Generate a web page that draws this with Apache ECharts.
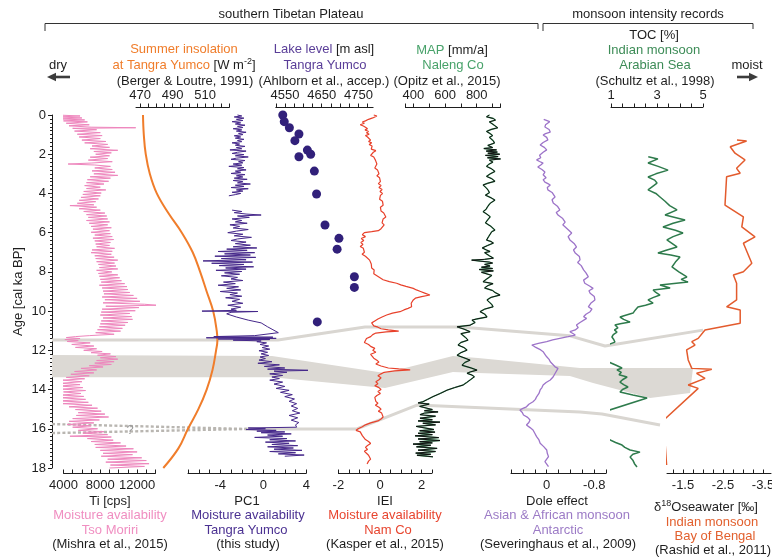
<!DOCTYPE html>
<html>
<head>
<meta charset="utf-8">
<script src="https://cdn.jsdelivr.net/npm/echarts@6/dist/echarts.min.js"></script>
<style>
  html, body { margin: 0; padding: 0; background: #fff; }
  #chart { width: 772px; height: 559px; }
</style>
</head>
<body>
<div id="chart"></div>
<script>
// ---------------------------------------------------------------------------
// Records, each as [age (cal ka BP), value]
// ---------------------------------------------------------------------------

// Ti [cps], Tso Moriri (Mishra et al., 2015)
const tiRecord = [
  [0.00,3300],[0.05,5800],[0.10,3500],[0.15,6000],[0.20,3600],[0.25,6300],[0.30,4000],[0.35,6600],
  [0.42,4300],[0.50,6800],[0.55,4600],[0.62,7000],[0.65,11850],[0.68,5000],[0.75,7600],[0.82,5200],
  [0.90,8000],[0.98,5500],[1.05,8200],[1.12,5700],[1.20,8000],[1.28,6000],[1.35,8600],[1.42,6300],
  [1.50,8800],[1.58,7100],[1.65,9000],[1.72,6900],[1.80,9900],[1.86,7300],[1.93,9200],[2.00,7500],
  [2.08,9000],[2.15,6900],[2.22,8800],[2.30,6700],[2.38,9300],[2.45,7000],[2.50,4500],[2.55,7400],
  [2.62,9100],[2.70,7400],[2.78,9300],[2.85,7100],[2.92,9600],[3.00,7300],[3.08,9900],[3.15,6900],
  [3.22,9100],[3.30,6600],[3.38,8900],[3.45,6500],[3.52,8400],[3.60,6300],[3.68,8000],[3.75,6500],
  [3.82,8600],[3.90,6200],[3.98,8100],[4.05,6100],[4.12,8000],[4.20,5900],[4.28,7800],[4.35,5700],
  [4.42,7500],[4.50,5500],[4.58,7300],[4.62,4700],[4.70,7600],[4.78,5700],[4.85,8000],[4.92,6200],
  [5.00,8500],[5.08,6500],[5.15,8700],[5.22,6700],[5.30,8800],[5.38,6500],[5.45,9000],[5.52,6800],
  [5.60,8800],[5.68,7000],[5.75,9200],[5.82,7200],[5.90,9000],[5.98,7000],[6.05,9100],[6.12,7400],
  [6.20,9300],[6.28,7200],[6.35,9450],[6.42,7400],[6.50,9100],[6.58,7500],[6.65,9000],[6.72,7600],
  [6.80,9550],[6.88,7100],[6.95,9300],[7.02,7000],[7.10,9200],[7.18,7400],[7.25,9500],[7.32,7500],
  [7.40,9900],[7.48,7600],[7.55,9550],[7.62,7800],[7.70,9700],[7.78,7900],[7.85,9900],[7.92,7600],
  [8.00,9250],[8.08,7800],[8.15,9900],[8.22,7900],[8.30,10100],[8.38,8000],[8.45,10300],[8.52,8100],
  [8.60,10650],[8.68,7900],[8.75,10900],[8.82,8200],[8.90,11000],[8.98,8300],[9.05,11200],[9.12,8400],
  [9.20,11600],[9.28,8200],[9.35,12000],[9.42,8500],[9.50,12300],[9.58,8300],[9.65,12800],[9.70,14100],
  [9.75,8600],[9.82,12200],[9.90,8200],[9.98,11800],[10.05,8100],[10.12,11200],[10.20,8000],[10.28,11400],
  [10.35,8300],[10.42,11500],[10.50,8100],[10.58,11000],[10.65,8000],[10.72,10700],[10.80,7900],[10.88,10400],
  [10.95,7700],[11.02,10200],[11.10,7500],[11.18,9500],[11.25,6800],[11.30,5300],[11.35,4300],[11.40,5800],
  [11.45,4150],[11.50,5600],[11.55,4400],[11.62,6900],[11.70,4900],[11.78,7300],[11.85,5300],[11.92,7600],
  [12.00,6200],[12.06,8200],[12.12,7000],[12.18,9100],[12.25,7700],[12.32,9700],[12.38,8000],[12.45,9900],
  [12.52,7600],[12.58,9500],[12.65,7400],[12.72,9200],[12.78,6800],[12.85,8300],[12.92,5900],[13.00,7600],
  [13.08,5200],[13.15,7300],[13.22,4800],[13.30,6800],[13.38,4300],[13.45,6300],[13.52,3900],[13.60,6000],
  [13.68,3700],[13.75,5800],[13.82,3500],[13.90,6100],[13.98,3800],[14.05,6400],[14.12,4000],[14.20,5900],
  [14.28,3800],[14.35,6200],[14.42,3700],[14.50,6400],[14.58,3500],[14.65,6700],[14.72,3900],[14.80,7100],
  [14.88,4600],[14.95,7700],[15.02,5300],[15.10,8100],[15.18,5600],[15.25,8500],[15.32,5400],[15.40,8900],
  [15.48,5000],[15.55,7900],[15.62,4600],[15.70,7300],[15.78,4400],[15.85,7000],[15.92,5000],[16.00,7700],
  [16.08,5600],[16.15,8400],[16.22,6100],[16.30,8800],[16.38,4700],[16.42,9200],[16.50,6600],[16.58,9400],
  [16.65,7000],[16.72,10200],[16.80,7400],[16.88,10800],[16.95,7500],[17.02,11600],[17.10,8000],[17.18,12000],
  [17.25,8300],[17.32,11500],[17.40,8100],[17.48,12500],[17.55,8800],[17.62,13000],[17.70,8600],[17.78,13300],
  [17.85,9100],[17.92,12800],[18.00,9000]
];

// Summer insolation at Tangra Yumco [W m-2] (Berger & Loutre, 1991)
const insolation = [
  [0,471.8],[1,472.3],[2,473.5],[3,476],[4,480.3],[5,487.4],[6,495.7],[7,502.4],[8,507],[9,511],
  [10,515],[11,517.2],[11.5,517.6],[12,516.8],[13,514.6],[14,511],[15,505.9],[16,499.5],[17,493.6],[18,484.3]
];

// PC1, Tangra Yumco (this study); null marks the core gap
const pc1Record = [
  [0.00,-2.4],[0.05,-2.0],[0.10,-2.7],[0.16,-1.8],[0.22,-2.5],[0.28,-1.9],[0.34,-2.9],[0.40,-2.1],
  [0.46,-2.6],[0.52,-1.7],[0.58,-2.4],[0.64,-1.9],[0.70,-2.8],[0.76,-2.0],[0.82,-2.5],[0.88,-1.6],
  [0.94,-2.3],[1.00,-1.9],[1.06,-2.7],[1.12,-2.1],[1.18,-2.6],[1.24,-1.8],[1.30,-2.4],[1.36,-2.0],
  [1.42,-2.9],[1.48,-2.2],[1.54,-2.6],[1.60,-1.7],[1.66,-2.5],[1.72,-2.0],[1.78,-3.1],[1.84,-1.6],
  [1.90,-2.4],[1.96,-2.9],[2.02,-1.8],[2.08,-2.6],[2.14,-1.4],[2.20,-2.5],[2.26,-3.0],[2.32,-1.7],
  [2.38,-2.3],[2.44,-1.9],[2.50,-2.8],[2.56,-2.0],[2.62,-3.2],[2.68,-1.8],[2.74,-2.4],[2.80,-1.6],
  [2.86,-2.6],[2.92,-2.1],[2.98,-3.0],[3.04,-1.7],[3.10,-2.5],[3.16,-1.9],[3.22,-2.7],[3.28,-1.5],
  [3.34,-2.8],[3.40,-1.9],[3.46,-2.4],[3.52,-1.2],[3.58,-2.6],[3.64,-1.8],[3.70,-3.0],[3.76,-1.4],
  [3.82,-2.5],[3.88,-1.9],[3.94,-2.9],[4.00,-2.1],[4.06,-2.6],[4.12,-3.2],
  null,
  [4.85,-2.9],[4.92,-2.0],[4.98,-2.7],[5.05,-1.6],[5.10,-0.2],[5.15,-2.4],[5.22,-1.3],[5.30,-2.9],
  [5.38,-2.0],[5.45,-2.6],[5.52,-1.5],[5.60,-3.1],[5.68,-2.2],[5.76,-2.8],[5.84,-1.4],[5.92,-2.5],
  [6.00,-3.3],[6.08,-1.9],[6.16,-2.7],[6.24,-1.1],[6.32,-2.4],[6.40,-3.0],[6.48,-1.6],[6.56,-2.6],
  [6.64,-1.2],[6.72,-2.8],[6.78,-0.6],[6.84,-3.4],[6.90,-1.5],[6.96,-4.2],[7.02,-0.8],[7.08,-3.6],
  [7.14,-1.2],[7.20,-4.5],[7.26,-0.7],[7.32,-3.9],[7.38,-1.6],[7.44,-5.6],[7.50,-1.0],[7.56,-4.8],
  [7.62,-1.8],[7.68,-4.1],[7.74,-0.9],[7.80,-3.5],[7.86,-1.6],[7.92,-4.4],[7.98,-2.0],[8.05,-3.6],
  [8.12,-2.2],[8.20,-3.9],[8.28,-2.4],[8.36,-3.0],[8.44,-1.9],[8.52,-3.7],[8.60,-2.6],[8.68,-4.2],
  [8.76,-2.3],[8.84,-3.4],[8.92,-2.1],[9.00,-4.0],[9.08,-2.4],[9.16,-3.1],[9.24,-2.0],[9.32,-3.5],
  [9.40,-2.2],[9.50,-2.9],[9.60,-1.9],[9.70,-3.3],[9.80,-2.1],[9.90,-3.0],[9.96,-2.5],[10.00,-5.7],
  [10.02,-0.5],[10.06,-3.0],[10.14,-3.4],[10.22,-3.4],[10.30,-2.5],[10.46,-1.4],[10.60,-0.2],[10.80,0.4],
  [10.95,0.9],[11.10,1.4],[11.25,-0.8],[11.30,-4.6],[11.33,0.9],[11.36,-5.3],[11.39,1.2],[11.42,-4.2],
  [11.45,0.6],[11.48,-2.8],[11.52,-0.2],[11.56,-0.6],[11.62,0.3],[11.70,-0.3],[11.78,0.5],[11.86,-0.1],
  [11.94,0.6],[12.02,-0.4],[12.10,0.4],[12.18,-0.2],[12.26,0.5],[12.34,-0.3],[12.42,0.2],[12.50,-0.4],
  [12.58,0.8],[12.66,-0.5],[12.74,1.5],[12.82,0.1],[12.90,2.0],[12.96,0.4],[13.02,4.6],[13.06,1.0],
  [13.12,2.2],[13.20,0.6],[13.28,1.8],[13.36,0.8],[13.44,1.5],[13.52,0.6],[13.62,1.8],[13.72,1.0],
  [13.84,2.0],[13.94,1.2],[14.04,2.4],[14.14,1.6],[14.26,2.7],[14.36,2.0],[14.48,2.9],[14.60,2.4],
  [14.72,3.1],[14.84,2.6],[14.96,3.2],[15.08,2.7],[15.20,3.4],[15.32,2.4],[15.44,3.2],[15.56,2.6],
  [15.68,3.3],[15.80,3.0],[15.92,3.1],[15.96,-1.4],[16.00,0.2],[16.04,-1.6],[16.08,1.2],[16.12,-0.6],
  [16.16,2.0],[16.20,-0.2],[16.26,2.6],[16.32,0.4],[16.38,1.8],[16.44,-0.8],[16.50,2.2],[16.56,0.6],
  [16.62,3.0],[16.68,0.2],[16.74,2.4],[16.80,0.8],[16.86,3.2],[16.92,0.4],[16.98,2.8],[17.04,1.0],
  [17.10,3.6],[17.16,0.6],[17.22,3.0],[17.28,1.4],[17.34,3.8],[17.40,2.0]
];

// Lake level [m asl], Tangra Yumco (Ahlborn et al., accep.)
const lakeLevel = [
  [0.00,4544],[0.34,4548],[0.65,4562],[0.97,4588],[1.31,4577],[1.79,4611],[2.00,4620],[2.13,4588],
  [2.86,4630],[4.03,4636],[5.61,4659],[6.29,4697],[6.84,4692],[8.25,4739],[8.79,4739],[10.55,4638]
];

// IEI, Nam Co (Kasper et al., 2015)
const ieiRecord = [
  [0.00,-0.30],[0.05,-0.15],[0.10,-0.10],[0.15,-0.35],[0.22,-0.55],[0.30,-0.70],[0.36,-0.85],[0.42,-0.75],
  [0.50,-0.95],[0.56,-0.80],[0.62,-0.70],[0.70,-0.60],[0.76,-0.72],[0.84,-0.55],[0.90,-0.65],[0.98,-0.52],
  [1.05,-0.70],[1.12,-0.60],[1.20,-0.68],[1.28,-0.45],[1.35,-0.55],[1.42,-0.40],[1.50,-0.52],[1.58,-0.38],
  [1.66,-0.30],[1.74,-0.42],[1.82,-0.20],[1.90,-0.32],[1.98,-0.25],[2.06,-0.45],[2.14,-0.30],[2.22,-0.38],
  [2.30,-0.22],[2.40,-0.30],[2.50,-0.15],[2.60,-0.10],[2.70,-0.25],[2.80,-0.12],[2.90,-0.20],[3.00,-0.05],
  [3.10,-0.15],[3.20,-0.02],[3.30,-0.10],[3.40,0.02],[3.50,-0.08],[3.60,0.05],[3.70,-0.05],[3.80,0.10],
  [3.90,0.00],[4.00,0.12],[4.10,0.02],[4.20,0.10],[4.30,-0.02],[4.40,0.12],[4.50,0.05],[4.60,0.15],
  [4.70,0.02],[4.80,-0.05],[4.90,0.05],[5.00,0.18],[5.10,0.10],[5.20,0.28],[5.30,0.15],[5.40,0.22],
  [5.50,0.10],[5.60,0.20],[5.70,0.15],[5.80,0.05],[5.90,-0.08],[5.95,-0.40],[6.00,-0.75],[6.10,-0.85],
  [6.20,-0.70],[6.30,-0.90],[6.40,-0.78],[6.50,-0.92],[6.60,-0.82],[6.70,-0.95],[6.80,-0.80],[6.90,-0.88],
  [7.00,-0.75],[7.10,-0.86],[7.20,-0.70],[7.30,-0.62],[7.40,-0.50],[7.50,-0.55],[7.60,-0.42],[7.70,-0.35],
  [7.80,-0.40],[7.90,-0.28],[8.00,-0.22],[8.10,-0.30],[8.20,-0.15],[8.30,-0.08],[8.40,0.15],[8.50,0.45],
  [8.58,0.80],[8.66,1.00],[8.74,1.25],[8.84,1.60],[8.92,1.75],[9.00,1.95],[9.08,2.15],[9.18,2.40],
  [9.26,2.00],[9.34,1.70],[9.43,1.60],[9.52,1.65],[9.60,1.50],[9.70,1.55],[9.78,1.52],[9.86,1.35],
  [9.94,1.15],[10.03,0.96],[10.10,0.60],[10.20,0.32],[10.30,0.10],[10.40,-0.10],[10.50,-0.25],[10.60,-0.40],
  [10.68,-0.45],[10.75,-0.30],[10.82,-0.10],[10.90,0.05],[10.96,0.40],[11.02,0.90],[11.06,0.30],[11.12,-0.20],
  [11.20,-0.35],[11.30,-0.45],[11.40,-0.65],[11.50,-0.60],[11.60,-0.75],[11.70,-0.55],[11.80,-0.45],[11.90,-0.25],
  [12.00,-0.35],[12.10,-0.20],[12.20,-0.45],[12.30,-0.50],[12.40,-0.30],[12.50,-0.15],[12.60,-0.05],[12.70,-0.20],
  [12.80,0.05],[12.90,0.40],[12.95,0.90],[13.00,1.45],[13.05,0.70],[13.12,0.20],[13.20,0.05],[13.30,-0.10],
  [13.40,0.05],[13.50,-0.05],[13.60,-0.20],[13.70,-0.10],[13.80,-0.25],[13.90,-0.05],[14.00,0.05],[14.10,-0.10],
  [14.20,0.02],[14.30,-0.15],[14.40,-0.25],[14.50,-0.32],[14.60,-0.20],[14.70,-0.10],[14.80,-0.22],[14.90,-0.05],
  [15.00,0.05],[15.10,-0.08],[15.20,0.08],[15.30,0.12],[15.40,0.15],[15.50,0.05],[15.60,-0.10],[15.70,-0.45],
  [15.80,-0.70],[15.90,-0.85],[16.00,-1.05],[16.08,-1.15],[16.16,-0.95],[16.25,-1.00],[16.35,-0.85],[16.45,-0.90],
  [16.55,-0.70],[16.65,-0.55],[16.75,-0.45],[16.85,-0.60],[16.95,-0.70],[17.05,-0.60],[17.15,-0.75],[17.25,-0.65],
  [17.35,-0.55],[17.45,-0.62],[17.55,-0.45],[17.65,-0.55],[17.75,-0.50],[17.80,-0.62]
];

// MAP [mm/a], Naleng Co (Opitz et al., 2015)
const mapRecord = [
  [0.00,880],[0.09,862],[0.18,905],[0.26,918],[0.35,880],[0.42,868],[0.52,910],[0.65,932],[0.74,890],
  [0.84,862],[0.95,885],[1.05,900],[1.14,880],[1.22,872],[1.32,905],[1.43,912],[1.55,870],[1.66,900],
  [1.71,845],[1.78,925],[1.84,860],[1.89,930],[1.95,870],[2.00,945],[2.06,855],[2.12,935],[2.18,868],
  [2.24,950],[2.30,880],[2.40,902],[2.52,875],[2.62,862],[2.75,895],[2.88,915],[3.00,885],[3.13,862],
  [3.25,895],[3.38,915],[3.48,870],[3.57,840],[3.70,858],[3.83,872],[3.96,880],[4.09,855],[4.22,890],
  [4.34,915],[4.50,885],[4.68,868],[4.80,860],[4.93,840],[5.06,865],[5.19,885],[5.34,870],[5.50,855],
  [5.68,890],[5.87,915],[5.95,895],[6.02,884],[6.20,875],[6.38,862],[6.45,890],[6.53,905],[6.65,870],
  [6.78,835],[6.88,860],[6.96,884],[7.02,850],[7.08,845],[7.18,880],[7.30,905],[7.36,850],[7.40,768],
  [7.45,821],[7.50,880],[7.55,900],[7.62,850],[7.70,884],[7.76,830],[7.83,900],[7.88,815],[7.95,905],
  [8.02,830],[8.10,840],[8.18,895],[8.25,884],[8.38,860],[8.50,840],[8.60,903],[8.70,870],[8.82,850],
  [8.95,900],[9.05,915],[9.18,947],[9.30,890],[9.43,865],[9.55,880],[9.66,895],[9.78,903],[9.90,850],
  [10.03,821],[10.15,850],[10.30,865],[10.40,800],[10.46,770],[10.58,790],[10.72,758],[10.80,676],[10.92,720],
  [11.05,758],[11.15,700],[11.22,695],[11.35,730],[11.48,745],[11.60,700],[11.73,682],[11.86,720],[11.99,739],
  [12.12,700],[12.25,676],[12.38,720],[12.50,758],[12.62,725],[12.76,707],[12.90,765],[13.01,802],[13.10,760],
  [13.17,739],[13.26,770],[13.35,785],[13.50,760],[13.65,735],[13.77,714],[13.90,660],[14.03,613],[14.20,570],
  [14.36,524],[14.50,490],[14.62,461],[14.68,430],[14.74,500],[14.80,493],[14.86,440],[14.95,430],[15.02,520],
  [15.08,470],[15.14,556],[15.20,470],[15.28,442],[15.36,540],[15.46,442],[15.54,520],[15.60,430],[15.66,568],
  [15.72,460],[15.80,540],[15.88,418],[15.97,423],[16.04,530],[16.10,440],[16.17,537],[16.23,430],[16.30,520],
  [16.36,411],[16.45,560],[16.52,430],[16.60,568],[16.66,440],[16.72,520],[16.78,398],[16.84,510],[16.92,420],
  [17.00,550],[17.09,430],[17.16,540],[17.24,415],[17.30,510],[17.35,423],[17.43,524]
];

// Dole effect, Antarctic (Severinghaus et al., 2009)
const doleRecord = [
  [0.22,0.05],[0.34,-0.05],[0.41,-0.06],[0.50,0.02],[0.61,0.03],[0.74,-0.04],[0.87,-0.06],[0.95,0.02],
  [1.02,0.06],[1.14,0.00],[1.27,-0.02],[1.40,0.06],[1.53,0.11],[1.65,0.04],[1.78,0.00],[1.90,0.06],
  [2.05,0.12],[2.18,0.10],[2.29,0.17],[2.37,0.12],[2.45,0.06],[2.55,0.10],[2.65,0.15],[2.78,0.08],
  [2.91,0.03],[3.05,0.06],[3.20,0.01],[3.30,0.06],[3.42,0.03],[3.50,-0.02],[3.57,-0.06],[3.70,-0.01],
  [3.82,-0.02],[3.95,-0.09],[4.05,-0.08],[4.18,-0.14],[4.32,-0.09],[4.49,-0.11],[4.65,-0.18],[4.84,-0.22],
  [4.97,-0.16],[5.10,-0.19],[5.28,-0.27],[5.46,-0.31],[5.60,-0.27],[5.76,-0.33],[5.90,-0.38],[6.02,-0.42],
  [6.20,-0.36],[6.37,-0.39],[6.55,-0.46],[6.73,-0.50],[6.88,-0.45],[7.04,-0.48],[7.22,-0.55],[7.39,-0.56],
  [7.52,-0.52],[7.68,-0.58],[7.90,-0.62],[8.05,-0.66],[8.25,-0.70],[8.42,-0.62],[8.58,-0.64],[8.72,-0.72],
  [8.84,-0.78],[8.96,-0.71],[9.09,-0.73],[9.26,-0.80],[9.43,-0.81],[9.60,-0.74],[9.78,-0.70],[9.90,-0.76],
  [10.03,-0.73],[10.16,-0.66],[10.29,-0.62],[10.37,-0.67],[10.45,-0.64],[10.58,-0.56],[10.71,-0.50],[10.84,-0.53],
  [10.96,-0.48],[11.05,-0.39],[11.14,-0.44],[11.22,-0.48],[11.30,-0.36],[11.39,-0.22],[11.47,-0.10],[11.56,0.00],
  [11.65,0.14],[11.73,0.25],[11.82,0.20],[11.90,0.17],[11.98,0.10],[12.07,0.06],[12.20,0.03],[12.33,0.00],
  [12.46,-0.04],[12.58,-0.06],[12.71,-0.10],[12.84,-0.14],[12.92,-0.19],[13.00,-0.17],[13.18,-0.14],[13.35,-0.11],
  [13.43,-0.09],[13.51,-0.06],[13.64,0.01],[13.77,0.06],[13.90,0.08],[14.02,0.11],[14.20,0.13],[14.37,0.17],
  [14.50,0.19],[14.62,0.23],[14.75,0.30],[14.88,0.34],[14.96,0.40],[15.04,0.45],[15.17,0.41],[15.30,0.39],
  [15.42,0.32],[15.55,0.28],[15.68,0.30],[15.81,0.34],[15.94,0.28],[16.06,0.23],[16.23,0.20],[16.40,0.17],
  [16.57,0.13],[16.74,0.11],[16.91,0.05],[17.08,0.00],[17.25,-0.01],[17.42,-0.03],[17.55,0.00],[17.68,0.03],
  [17.80,0.00],[17.93,-0.03]
];

// TOC [%], Arabian Sea (Schultz et al., 1998)
const tocRecord = [
  [2.13,2.62],[2.24,3.04],[2.45,2.61],[2.62,3.05],[2.81,3.48],[3.00,2.95],[3.16,2.61],[3.32,2.90],
  [3.47,3.00],[3.65,2.80],[3.82,2.61],[4.00,2.95],[4.18,3.13],[4.40,3.35],[4.62,3.55],[4.84,3.87],
  [5.10,3.35],[5.35,4.22],[5.52,3.70],[5.71,3.26],[5.88,3.80],[6.02,4.13],[6.20,3.70],[6.37,3.43],
  [6.55,3.65],[6.73,3.87],[6.90,3.40],[7.04,3.04],[7.14,3.60],[7.24,4.00],[7.50,3.80],[7.75,3.65],
  [8.00,3.95],[8.26,4.30],[8.38,4.05],[8.52,4.35],[8.67,3.13],[8.82,3.57],[8.92,2.83],[9.05,2.95],
  [9.18,3.13],[9.30,2.85],[9.43,2.61],[9.59,2.83],[9.70,2.50],[9.79,2.17],[9.95,2.05],[10.10,1.96],
  [10.22,1.60],[10.30,1.39],[10.42,1.55],[10.56,1.83],[10.64,1.40],[10.71,1.17],[10.85,1.30],[10.96,1.15],
  [11.07,1.26],[11.20,1.10],[11.32,1.04],[11.45,1.12],[11.58,1.17],[11.70,0.90],[11.83,0.74],[12.00,0.70],
  [12.20,0.62],[12.35,0.68],[12.49,0.65],[12.62,0.95],[12.75,1.20],[12.90,1.48],[13.00,1.26],[13.12,1.45],
  [13.25,1.35],[13.36,1.70],[13.50,1.50],[13.62,1.39],[13.75,1.55],[13.87,1.74],[14.00,1.50],[14.13,1.39],
  [14.28,1.95],[14.43,2.57],[15.20,0.52],[15.40,0.55],[15.60,0.50],[15.75,0.56],[15.91,0.61],[16.10,0.70],
  [16.30,0.75],[16.45,0.85],[16.57,0.96],[16.70,1.20],[16.83,1.48],[16.95,1.60],[17.08,1.83],[17.19,2.26],
  [17.30,1.95],[17.44,1.83],[17.60,1.95],[17.78,2.02],[17.95,2.13]
];

// δ18O seawater [‰], Bay of Bengal (Rashid et al., 2011)
const d18oRecord = [
  [1.28,-2.85],[1.33,-3.09],[1.62,-2.68],[1.95,-2.80],[2.29,-3.05],[2.72,-2.84],[2.97,-2.93],[3.15,-2.59],
  [4.59,-2.55],[5.19,-3.01],[5.70,-2.97],[6.21,-3.30],[6.54,-3.01],[7.56,-3.22],[7.99,-3.01],[8.16,-2.76],
  [8.58,-2.84],[9.43,-2.84],[9.78,-2.59],[9.94,-2.93],[10.62,-2.93],[10.96,-2.05],[11.39,-1.88],[11.56,-1.72],
  [11.73,-1.80],[11.98,-1.59],[12.49,-1.63],[12.92,-1.72],[12.97,-2.22],[13.17,-1.84],[13.43,-2.05],[13.77,-1.63],
  [13.94,-1.88],[15.72,-0.93],[16.66,-1.05],[17.85,-1.09]
];

// Tick labels of each panel
const ageTickStep = 2;
const tiTickLabels = [4000, 8000, 12000];
const insTickLabels = [470, 490, 510];
const pc1TickLabels = [-4, 0, 4];
const lakeTickLabels = [4550, 4650, 4750];
const ieiTickLabels = [-2, 0, 2];
const mapTickLabels = [400, 600, 800];
const doleTickLabels = [0, -0.8];
const tocTickLabels = [1, 3, 5];
const d18oTickLabels = [-1.5, -2.5, -3.5];

// Correlated events, as tie-points [panel index, value on that panel's scale, age]
const eventHolocene = [[0,2750,11.47],[2,1.37,11.47],[4,-0.72,10.81],[5,694,10.81],[6,-0.39,11.26],[7,0.74,11.78],[8,-2.0,10.97]];
const eventYDTop = [[0,2750,12.24],[2,0.81,12.29],[4,0.24,13.16],[5,650,12.29],[5,808,12.39],[6,-0.56,12.90],[8,-1.75,12.90]];
const eventYDBottom = [[8,-1.675,14.18],[7,2.70,14.43],[7,0.22,13.67],[6,-0.39,13.31],[5,808,13.16],[5,650,13.11],[4,0.24,13.92],[2,0.81,13.37],[0,2750,13.37]];
const eventBA = [[2,-1.52,16.01],[4,-1.11,16.01],[5,423,14.79],[6,-0.56,15.15],[7,0.61,15.25],[8,-0.925,15.81]];
const eventBAUncertain = [[[0,2750,15.76],[2,-1.52,16.01]], [[0,2750,16.22],[2,-1.52,16.01]]];

// ---------------------------------------------------------------------------
// Layout and styling
// ---------------------------------------------------------------------------
const FONT = '"Liberation Sans", Arial, Helvetica, sans-serif';
const INK = '#1e1e1e';
const GRID_TOP = 115, GRID_H = 353;

function steps(a, b, s) {
  const out = [];
  for (let i = 0; a + i * s <= b + 1e-9; i++) out.push(+(a + i * s).toFixed(4));
  return out;
}

const panels = [
  { left: 63.5, width: 92,   min: 4000,  max: 14000, side: 'bottom', ticks: steps(4000, 14000, 1000), labels: tiTickLabels },
  { left: 136,  width: 93.4, min: 467.5, max: 525,   side: 'top',    ticks: steps(470, 525, 5), labels: insTickLabels },
  { left: 188,  width: 118.3,min: -7,    max: 4,     side: 'bottom', ticks: steps(-7, 4, 1), labels: pc1TickLabels },
  { left: 275.8,width: 97.3, min: 4525,  max: 4790,  side: 'top',    ticks: steps(4525, 4775, 25), labels: lakeTickLabels },
  { left: 338.4,width: 93.6, min: -2,    max: 2.5,   side: 'bottom', ticks: steps(-2, 2.5, 0.5), labels: ieiTickLabels },
  { left: 405.4,width: 95.1, min: 350,   max: 950,   side: 'top',    ticks: [350].concat(steps(400, 900, 100), [950]), labels: mapTickLabels },
  { left: 511,  width: 95.2, min: -1,    max: 0.6,   side: 'bottom', inverse: true, ticks: steps(-1, 0.6, 0.2), labels: doleTickLabels },
  { left: 611,  width: 92,   min: 1,     max: 5,     side: 'top',    ticks: steps(1, 5, 0.5), labels: tocTickLabels },
  { left: 667,  width: 104,  min: -3.7,  max: -1.1,  side: 'bottom', inverse: true, ticks: steps(-3.5, -1.25, 0.25), labels: d18oTickLabels }
];

const COL = {
  pink: '#ee86bd', orange: '#f07d2b', indigo: '#45278a', dot: '#31207a', red: '#e8412b',
  mapGreen: '#52a872', black: '#111', lavender: '#9d74c9', tocGreen: '#2e7b4c', bengal: '#e35b2d',
  band: '#dcd9d4', bandLine: '#d9d6d1', dashed: '#b9b6b1'
};

const toXY = rec => rec.map(d => d === null ? null : [d[1], d[0]]);

function lineSeries(i, rec, color, width, extra) {
  return Object.assign({
    type: 'line', xAxisIndex: i, yAxisIndex: i, data: toXY(rec), symbol: 'none', showSymbol: false,
    lineStyle: { color, width }, clip: false, z: 3, silent: true
  }, extra || {});
}

// PC1 record split into continuous segments at the core gap
const pc1Segments = [[]];
pc1Record.forEach(d => { if (d === null) pc1Segments.push([]); else pc1Segments[pc1Segments.length - 1].push(d); });

const series = [
  lineSeries(0, tiRecord, COL.pink, 1),
  lineSeries(1, insolation, COL.orange, 2, { smooth: 0.4 }),
  ...pc1Segments.map(seg => lineSeries(2, seg, COL.indigo, 1)),
  { type: 'scatter', xAxisIndex: 3, yAxisIndex: 3, data: toXY(lakeLevel), symbolSize: 9,
    itemStyle: { color: COL.dot, opacity: 1 }, z: 4, silent: true },
  lineSeries(4, ieiRecord, COL.red, 1.2),
  lineSeries(5, mapRecord, COL.mapGreen, 1.4),
  lineSeries(5, mapRecord, COL.black, 1, { z: 4 }),
  lineSeries(6, doleRecord, COL.lavender, 1.3),
  lineSeries(7, tocRecord, COL.tocGreen, 1.5),
  lineSeries(8, d18oRecord, COL.bengal, 1.5)
];

const option = {
  animation: false,
  backgroundColor: '#fff',
  textStyle: { fontFamily: FONT },
  grid: panels.map(p => ({ left: p.left, width: p.width, top: GRID_TOP, height: GRID_H,
    containLabel: false, outerBoundsMode: 'none' })),
  xAxis: panels.map((p, i) => ({
    gridIndex: i, type: 'value', position: p.side, min: p.min, max: p.max, inverse: !!p.inverse,
    offset: p.side === 'bottom' ? 5 : 8,
    axisLine: { show: true, onZero: false, lineStyle: { color: INK, width: 1 } },
    axisTick: { show: true, inside: p.side === 'bottom', length: 3.5, customValues: p.ticks, lineStyle: { color: INK, width: 1 } },
    axisLabel: { show: true, customValues: p.labels, margin: p.side === 'bottom' ? 6 : 5, color: INK,
      fontSize: 13, fontFamily: FONT, formatter: v => String(v), hideOverlap: false },
    splitLine: { show: false }
  })),
  yAxis: panels.map((p, i) => i === 0 ? {
    gridIndex: 0, type: 'value', min: 0, max: 18, interval: ageTickStep, inverse: true, position: 'left', offset: 11.5,
    axisLine: { show: true, onZero: false, lineStyle: { color: INK, width: 1 } },
    axisTick: { show: true, length: 4, lineStyle: { color: INK } },
    minorTick: { show: true, splitNumber: 10, length: 2, lineStyle: { color: INK } },
    axisLabel: { margin: 6, color: INK, fontSize: 13, fontFamily: FONT },
    splitLine: { show: false }, minorSplitLine: { show: false },
    name: 'Age [cal ka BP]', nameLocation: 'middle', nameGap: 27,
    nameTextStyle: { color: INK, fontSize: 13, fontFamily: FONT }
  } : {
    gridIndex: i, type: 'value', min: 0, max: 18, inverse: true, show: false,
    axisLine: { onZero: false }, splitLine: { show: false }
  }),
  series
};

const chart = echarts.init(document.getElementById('chart'), null, { renderer: 'canvas', width: 772, height: 559 });
chart.setOption(option);

// ---------------------------------------------------------------------------
// Annotations: event bands, headers, column captions
// ---------------------------------------------------------------------------
const px = a => chart.convertToPixel({ gridIndex: a[0] }, [a[1], a[2]]);

function richStyles(extra) {
  const base = { fontSize: 13, fontFamily: FONT };
  const out = { k: Object.assign({ fill: INK }, base), s: { fill: INK, fontSize: 9, fontFamily: FONT, padding: [0, 0, 7, 0] } };
  Object.keys(extra || {}).forEach(k => { out[k] = Object.assign({ fill: extra[k] }, base); });
  return out;
}
function txt(x, y, text, color, rich) {
  return {
    type: 'text', x, y, z: 10, silent: true,
    style: {
      text, rich, fill: color || INK, font: '13px ' + FONT,
      align: 'center', verticalAlign: 'middle', textAlign: 'center', textVerticalAlign: 'middle'
    }
  };
}
function polyline(points, stroke, width, dash) {
  return { type: 'polyline', z: 1, silent: true, shape: { points },
    style: { stroke, lineWidth: width, fill: null, lineDash: dash || null, lineCap: 'butt', lineJoin: 'round' } };
}
function arrow(x0, x1, y) {
  const dir = Math.sign(x1 - x0), head = 9;
  return [
    { type: 'line', z: 10, silent: true, shape: { x1: x0, y1: y, x2: x1 - dir * head + dir * 1, y2: y },
      style: { stroke: '#3c3c3c', lineWidth: 2.6 } },
    { type: 'polygon', z: 10, silent: true, shape: { points: [[x1, y], [x1 - dir * head, y - 4.2], [x1 - dir * head, y + 4.2]] },
      style: { fill: '#3c3c3c' } }
  ];
}

const bandTop = eventYDTop.map(px), bandBottom = eventYDBottom.map(px);
const graphics = [
  { type: 'polygon', z: 1, silent: true, shape: { points: bandTop.concat(bandBottom) }, style: { fill: COL.band } },
  polyline(eventHolocene.map(px), COL.bandLine, 3),
  polyline(eventBA.map(px), COL.bandLine, 3),
  ...eventBAUncertain.map(seg => polyline(seg.map(px), COL.dashed, 2.4, [3, 2.2])),
  txt(130, 430, '?', '#9a9a9a'),

  // headers
  polyline([[45, 31], [45, 23.5], [538, 23.5], [538, 29]], '#333', 1),
  polyline([[543, 31], [543, 23.5], [753, 23.5], [753, 29]], '#333', 1),
  txt(291, 14.5, 'southern Tibetan Plateau'),
  txt(648, 14.5, 'monsoon intensity records'),
  txt(58, 65.5, 'dry'),
  ...arrow(70, 47, 77),
  txt(747, 65, 'moist'),
  ...arrow(737, 758, 77),

  txt(184, 49, 'Summer insolation', COL.orange),
  txt(184, 65.5, '{o|at Tangra Yumco }{k|[W m}{s|-2}{k|]}', INK, richStyles({ o: COL.orange })),
  txt(185, 81.5, '(Berger & Loutre, 1991)'),

  txt(324, 49, '{p|Lake level }{k|[m asl]}', INK, richStyles({ p: '#5a3e98' })),
  txt(325, 65.5, 'Tangra Yumco', '#5a3e98'),
  txt(324, 81.5, '(Ahlborn et al., accep.)'),

  txt(452, 50, '{g|MAP }{k|[mm/a]}', INK, richStyles({ g: '#48a26a' })),
  txt(453, 65.5, 'Naleng Co', '#48a26a'),
  txt(447, 81.5, '(Opitz et al., 2015)'),

  txt(654, 35, 'TOC [%]'),
  txt(654, 50.5, 'Indian monsoon', '#3d8c57'),
  txt(655, 65.5, 'Arabian Sea', '#3d8c57'),
  txt(655, 81.5, '(Schultz et al., 1998)'),

  // column captions below the axes
  txt(110, 501, 'Ti [cps]'),
  txt(110, 515.5, 'Moisture availability', '#f08ec1'),
  txt(110, 530, 'Tso Moriri', '#f08ec1'),
  txt(110, 544.5, '(Mishra et al., 2015)'),

  txt(247, 501, 'PC1'),
  txt(248, 515.5, 'Moisture availability', '#4b3192'),
  txt(246, 530, 'Tangra Yumco', '#4b3192'),
  txt(248, 544.5, '(this study)'),

  txt(385, 501, 'IEI'),
  txt(385, 515.5, 'Moisture availability', '#e8452f'),
  txt(388, 530, 'Nam Co', '#e8452f'),
  txt(385, 544.5, '(Kasper et al., 2015)'),

  txt(557, 501, 'Dole effect'),
  txt(557, 515.5, 'Asian & African monsoon', '#9c7bc6'),
  txt(558, 530, 'Antarctic', '#9c7bc6'),
  txt(558, 544.5, '(Severinghaus et al., 2009)'),

  txt(706, 507, '{k|δ}{s|18}{k|Oseawater [‰]}', INK, richStyles({})),
  txt(712, 522, 'Indian monsoon', '#e2602e'),
  txt(715, 536.5, 'Bay of Bengal', '#e2602e'),
  txt(713, 550.5, '(Rashid et al., 2011)')
];

chart.setOption({ graphic: { elements: graphics } });
</script>
</body>
</html>
